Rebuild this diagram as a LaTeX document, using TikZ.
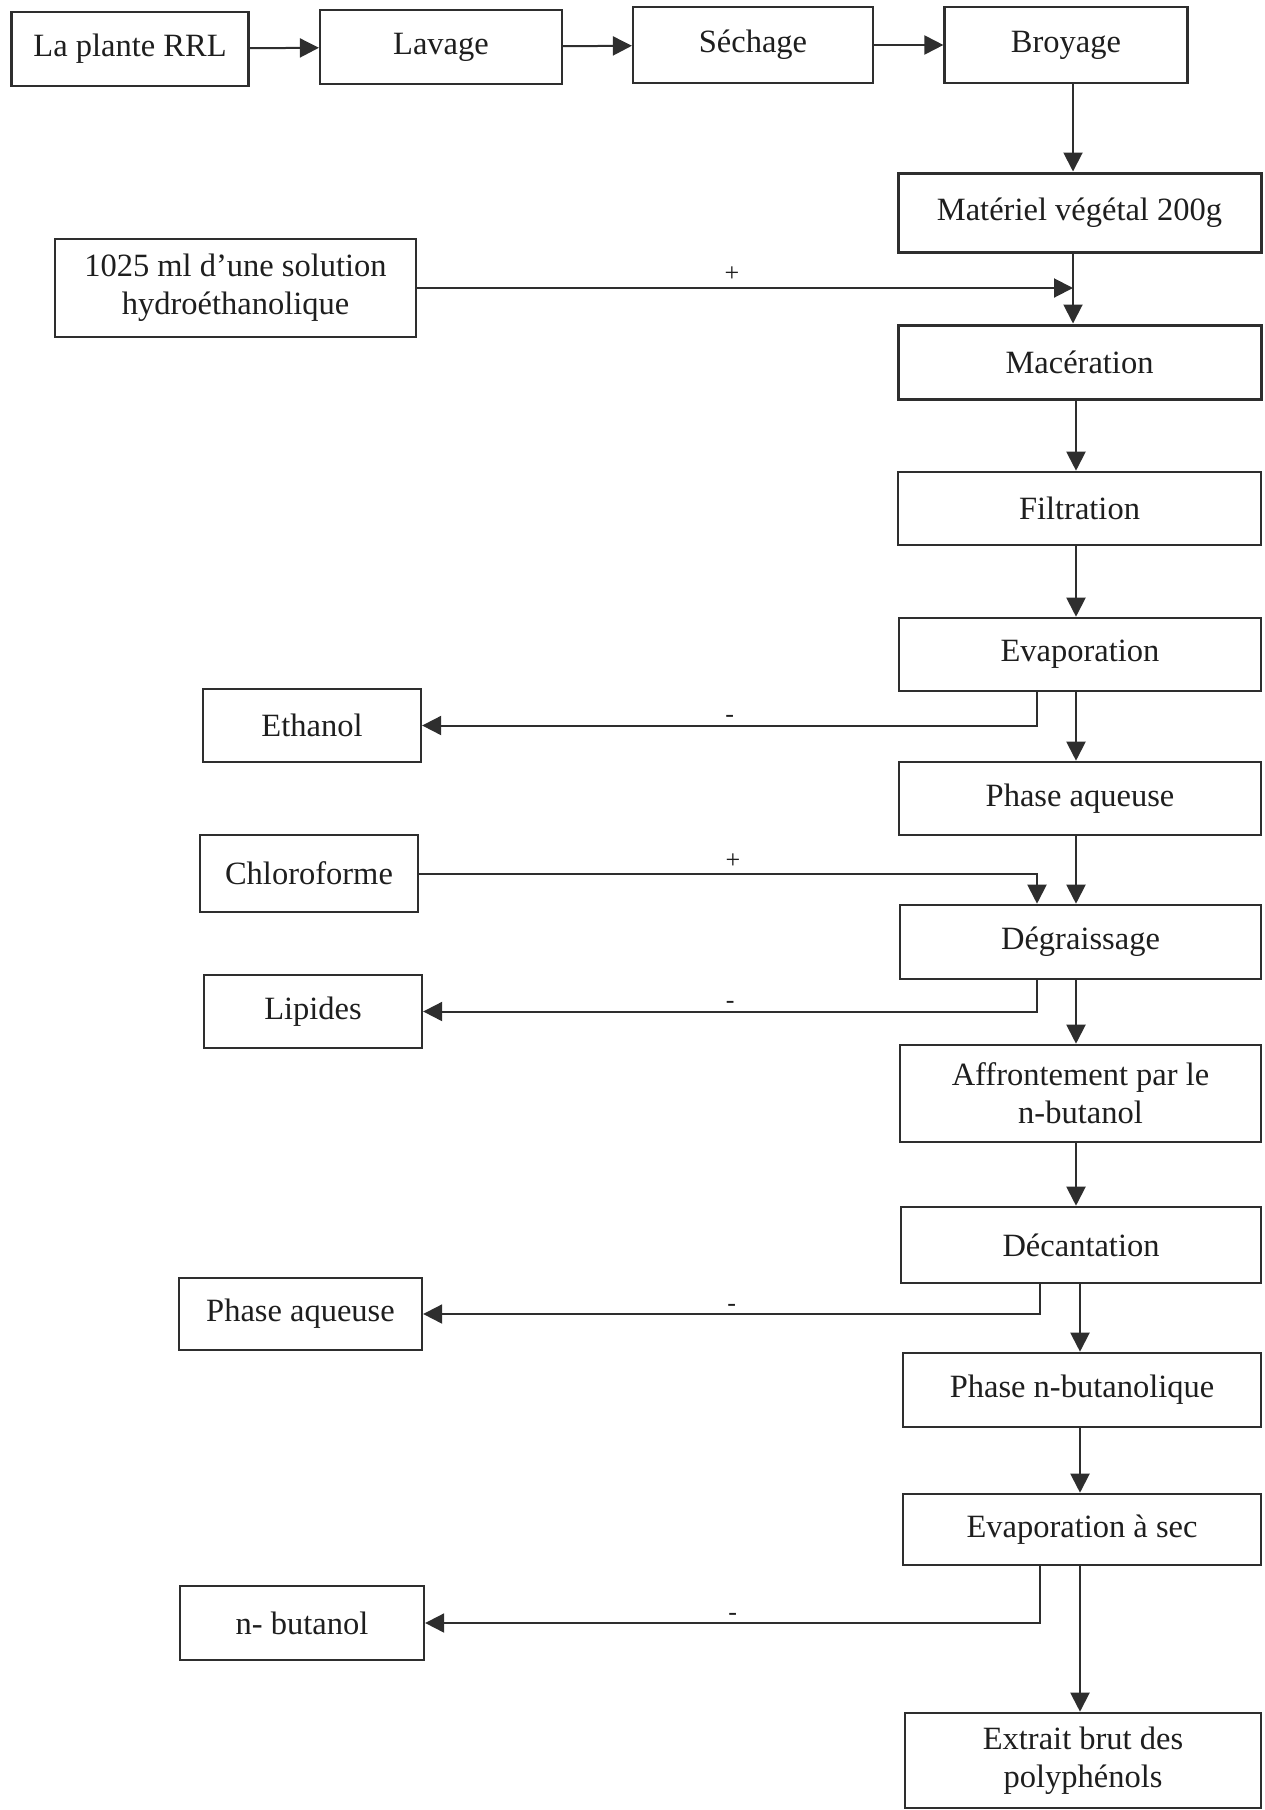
\documentclass[tikz,border=0pt]{standalone}
\usepackage{fontspec}
\setmainfont{Liberation Serif}
\usetikzlibrary{arrows.meta}
\definecolor{ink}{HTML}{2E2E2E}
\definecolor{txt}{HTML}{1E1E1E}
\tikzset{
  box/.style={draw=ink, line width=2.6pt, rectangle, inner sep=0pt, align=center,
    text=txt, font=\fontsize{32.5}{38}\selectfont},
  topbox/.style={box, line width=2.2pt},
  sidebox/.style={box, line width=2.3pt},
  arr/.style={draw=ink, line width=2pt, -{Triangle[length=19pt,width=19pt]}},
  sign/.style={text=txt, font=\fontsize{26}{30}\selectfont, inner sep=2pt}
}
\begin{document}
\begin{tikzpicture}[x=1pt,y=-1pt]
\useasboundingbox (0,0) rectangle (1264,1810);
% top row
\node[topbox, minimum width=237, minimum height=74] (plante) at (130,49) {La plante RRL};
\node[topbox, minimum width=242, minimum height=74] (lavage) at (441,47) {Lavage};
\node[topbox, minimum width=240, minimum height=76] (sechage) at (753,45) {Séchage};
\node[topbox, minimum width=243, minimum height=76] (broyage) at (1066,45) {Broyage};
% main column
\node[box, line width=3pt, minimum width=363, minimum height=79] (materiel) at (1079.5,212.5) {Matériel végétal 200g};
\node[box, line width=3pt, minimum width=363, minimum height=74] (maceration) at (1079.5,362) {Macération};
\node[box, minimum width=363, minimum height=73] (filtration) at (1079.5,508.5) {Filtration};
\node[box, minimum width=362, minimum height=73] (evaporation) at (1080,654.5) {Evaporation};
\node[box, minimum width=362, minimum height=73] (phaseaq) at (1080,798.5) {Phase aqueuse};
\node[box, minimum width=361, minimum height=74] (degraissage) at (1080.5,942) {Dégraissage};
\node[box, minimum width=361, minimum height=97] (affrontement) at (1080.5,1093.5) {Affrontement par le\\n-butanol};
\node[box, minimum width=360, minimum height=76] (decantation) at (1081,1245) {Décantation};
\node[box, minimum width=358, minimum height=74] (phasebut) at (1082,1390) {Phase n-butanolique};
\node[box, minimum width=358, minimum height=71] (evapsec) at (1082,1529.5) {Evaporation à sec};
\node[box, minimum width=356, minimum height=95] (extrait) at (1083,1760.5) {Extrait brut des\\polyphénols};
% side boxes
\node[sidebox, minimum width=361, minimum height=98] (solution) at (235.5,288) {1025 ml d’une solution\\hydroéthanolique};
\node[sidebox, minimum width=218, minimum height=73] (ethanol) at (312,725.5) {Ethanol};
\node[sidebox, minimum width=218, minimum height=77] (chloro) at (309,873.5) {Chloroforme};
\node[sidebox, minimum width=218, minimum height=73] (lipides) at (313,1011.5) {Lipides};
\node[sidebox, minimum width=243, minimum height=72] (phaseaq2) at (300.5,1314) {Phase aqueuse};
\node[sidebox, minimum width=244, minimum height=74] (nbutanol) at (302,1623) {n- butanol};
% branch x positions
\coordinate (bx) at (1037,0);
\coordinate (bxb) at (1040,0);
\coordinate (mx) at (1073,0);
\coordinate (my) at (1076,0);
\coordinate (mz) at (1080,0);
% top row arrows
\draw[arr] (plante) -- (lavage);
\draw[arr] (lavage) -- (sechage);
\draw[arr] (sechage) -- (broyage);
\draw[arr] (broyage.south -| mx) -- (materiel.north -| mx);
% main column arrows
\draw[arr] (materiel.south -| mx) -- (maceration.north -| mx);
\draw[arr] (solution.east) -- node[sign, above, pos=0.48, yshift=4pt] {+} (solution.east -| mx);
\draw[arr] (maceration.south -| my) -- (filtration.north -| my);
\draw[arr] (filtration.south -| my) -- (evaporation.north -| my);
\draw[arr] (evaporation.south -| my) -- (phaseaq.north -| my);
\draw[arr] (phaseaq.south -| my) -- (degraissage.north -| my);
\draw[arr] (degraissage.south -| my) -- (affrontement.north -| my);
\draw[arr] (affrontement.south -| my) -- (decantation.north -| my);
\draw[arr] (decantation.south -| mz) -- (phasebut.north -| mz);
\draw[arr] (phasebut.south -| mz) -- (evapsec.north -| mz);
\draw[arr] (evapsec.south -| mz) -- (extrait.north -| mz);
% side branches
\draw[arr] (evaporation.south -| bx) |- node[sign, above, pos=0.75] {-} (ethanol.east);
\draw[arr] (chloro.east) -| node[sign, above, pos=0.254, yshift=2pt] {+} (degraissage.north -| bx);
\draw[arr] (degraissage.south -| bx) |- node[sign, above, pos=0.75] {-} (lipides.east);
\draw[arr] (decantation.south -| bxb) |- node[sign, above, pos=0.75] {-} (phaseaq2.east);
\draw[arr] (evapsec.south -| bxb) |- node[sign, above, pos=0.75] {-} (nbutanol.east);
\end{tikzpicture}
\end{document}
